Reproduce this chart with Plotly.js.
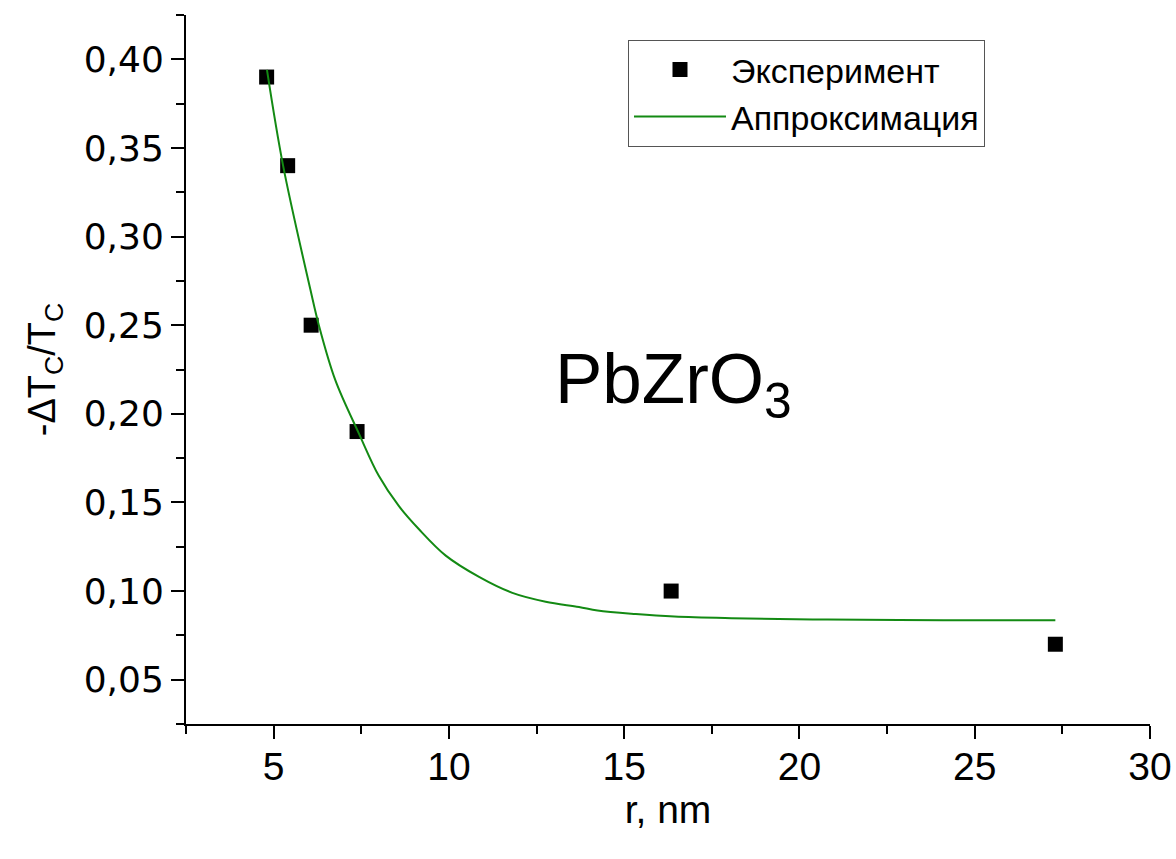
<!DOCTYPE html>
<html>
<head>
<meta charset="utf-8">
<script src="https://cdn.plot.ly/plotly-3.0.1.min.js"></script>
<style>
html,body{margin:0;padding:0;background:#fff;}
#chart{width:1176px;height:859px;}
</style>
</head>
<body>
<div id="chart"></div>
<script>
// Experimental points
var expR = [4.8, 5.4, 6.07, 7.38, 16.34, 27.3];
var expT = [0.39, 0.34, 0.25, 0.19, 0.10, 0.07];

// Fitted curve
var fitR = [4.81, 5.27, 6.05, 6.29, 6.76, 7.43, 8.0, 8.57, 9.14, 9.91, 10.86, 11.81, 12.76, 13.71, 14.24, 15.33, 16.43, 18.06, 20.8, 24.1, 27.3];
var fitT = [0.394, 0.340, 0.270, 0.250, 0.219, 0.189, 0.165, 0.148, 0.135, 0.120, 0.108, 0.099, 0.094, 0.091, 0.089, 0.087, 0.0856, 0.0847, 0.0839, 0.0836, 0.0835];

var legendNames = ['Эксперимент', 'Аппроксимация'];
var xTitle = 'r, nm';
var yTitle = '-ΔT<sub>C</sub>/T<sub>C</sub>';
var label = 'PbZrO<sub>3</sub>';

var FONT = 'Liberation Sans, Arial, sans-serif';
var WIDE = 'DejaVu Sans, Liberation Sans, Arial, sans-serif';

var traces = [
  {
    x: expR, y: expT, type: 'scatter', mode: 'markers', name: legendNames[0],
    marker: {symbol: 'square', size: 15, color: '#000000'}
  },
  {
    x: fitR, y: fitT, type: 'scatter', mode: 'lines', name: legendNames[1],
    line: {color: '#138a13', width: 2, shape: 'spline', smoothing: 1}
  }
];

var layout = {
  width: 1176, height: 859,
  paper_bgcolor: '#ffffff', plot_bgcolor: '#ffffff',
  margin: {l: 186, r: 26, t: 15, b: 135},
  separators: ', ',
  font: {family: FONT, color: '#000000', size: 30},
  showlegend: true,
  legend: {
    x: 0.4585, y: 0.965, xanchor: 'left', yanchor: 'top',
    bordercolor: '#555555', borderwidth: 1, bgcolor: '#ffffff',
    font: {family: FONT, size: 34, color: '#000000'},
    itemwidth: 92, tracegroupgap: 0
  },
  xaxis: {
    range: [2.5, 30], autorange: false,
    tickmode: 'linear', tick0: 5, dtick: 5,
    ticks: 'outside', ticklen: 13, tickwidth: 2, tickcolor: '#000',
    minor: {dtick: 2.5, tick0: 2.5, ticks: 'outside', ticklen: 8, tickwidth: 2, tickcolor: '#000', showgrid: false},
    showline: true, linecolor: '#000', linewidth: 2, mirror: false,
    showgrid: false, zeroline: false,
    ticklabelstandoff: -6,
    tickfont: {family: FONT, size: 39, color: '#000'},
    title: {text: xTitle, font: {family: FONT, size: 39, color: '#000'}, standoff: 4}
  },
  yaxis: {
    range: [0.025, 0.425], autorange: false,
    tickmode: 'linear', tick0: 0.05, dtick: 0.05, tickformat: '.2f',
    ticks: 'outside', ticklen: 13, tickwidth: 2, tickcolor: '#000',
    minor: {dtick: 0.025, tick0: 0.025, ticks: 'outside', ticklen: 8, tickwidth: 2, tickcolor: '#000', showgrid: false},
    showline: true, linecolor: '#000', linewidth: 2, mirror: false,
    showgrid: false, zeroline: false,
    tickfont: {family: WIDE, size: 36, color: '#000'},
    title: {text: yTitle, font: {family: FONT, size: 38, color: '#000'}, standoff: 16}
  },
  annotations: [
    {
      text: label, x: 16.4, y: 0.217, xref: 'x', yref: 'y',
      showarrow: false, xanchor: 'center', yanchor: 'middle',
      font: {family: FONT, size: 71, color: '#000'}
    }
  ]
};

Plotly.newPlot('chart', traces, layout, {displayModeBar: false, staticPlot: true});
</script>
</body>
</html>
